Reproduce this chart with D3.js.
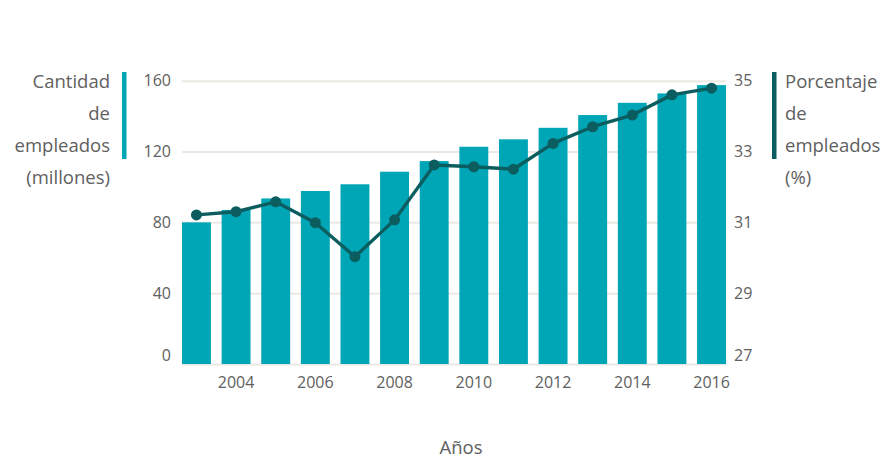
<!DOCTYPE html>
<html>
<head>
<meta charset="utf-8">
<script src="https://cdn.jsdelivr.net/npm/d3@7"></script>
<style>
  html, body { margin: 0; padding: 0; background: #fff; }
  svg { display: block; font-family: "Open Sans", Lato, sans-serif; }
</style>
</head>
<body>
<svg id="chart" width="881" height="476"></svg>
<script>
// Employment: headcount (millions, bars) and share of employed (% line), 2003–2016
const years = [2003, 2004, 2005, 2006, 2007, 2008, 2009, 2010, 2011, 2012, 2013, 2014, 2015, 2016];
const employed = [80, 87, 93.5, 97.7, 101.5, 108.6, 114.6, 122.7, 126.9, 133.4, 140.6, 147.5, 152.8, 157.5];
const sharePct = [31.21, 31.30, 31.58, 30.99, 30.03, 31.07, 32.62, 32.57, 32.50, 33.23, 33.70, 34.03, 34.60, 34.79];
const leftTicks = [0, 40, 80, 120, 160];
const rightTicks = [27, 29, 31, 33, 35];
const xTickYears = [2004, 2006, 2008, 2010, 2012, 2014, 2016];
const leftTitle = ["Cantidad", "de", "empleados", "(millones)"];
const rightTitle = ["Porcentaje", "de", "empleados", "(%)"];
const xTitle = "Años";

const barColor = "#00a6b6";
const lineColor = "#0b5d5f";
const gridColor = "#ece8e4";
const textColor = "#606060";
const font = "'Open Sans', Lato, sans-serif";

const svg = d3.select("#chart");
const plot = { left: 182, right: 726, top: 80.7, bottom: 364 };

const x = d3.scaleBand().domain(years).range([plot.left, plot.right])
  .paddingInner(0.27).paddingOuter(0);
const yL = d3.scaleLinear().domain([0, 160]).range([plot.bottom, plot.top]);
const yR = d3.scaleLinear().domain([27, 35]).range([plot.bottom, plot.top]);

// gridlines
svg.append("g")
  .attr("transform", `translate(${plot.left},0)`)
  .call(d3.axisLeft(yL).tickValues(leftTicks).tickSize(-(plot.right - plot.left)).tickFormat(""))
  .call(g => g.select(".domain").remove())
  .call(g => g.selectAll("line").attr("stroke", gridColor).attr("stroke-width", 2));

// bars
svg.append("g").selectAll("rect").data(years).join("rect")
  .attr("x", d => x(d))
  .attr("width", x.bandwidth())
  .attr("y", (d, i) => yL(employed[i]))
  .attr("height", (d, i) => yL(0) - yL(employed[i]))
  .attr("fill", barColor);

// left axis labels
const axL = svg.append("g")
  .attr("transform", `translate(171,0)`)
  .call(d3.axisLeft(yL).tickValues(leftTicks).tickSize(0).tickPadding(0))
  .call(g => g.select(".domain").remove());
// right axis labels
const axR = svg.append("g")
  .attr("transform", `translate(734,0)`)
  .call(d3.axisRight(yR).tickValues(rightTicks).tickSize(0).tickPadding(0))
  .call(g => g.select(".domain").remove());
[axL, axR].forEach(ax => {
  ax.selectAll("text")
    .attr("fill", textColor)
    .style("font-size", "16px")
    .style("font-family", font);
  // lowest label sits slightly above the baseline
  ax.selectAll(".tick").filter((d, i) => i === 0).select("text").attr("y", -9);
});

// x axis labels
const axX = svg.append("g")
  .attr("transform", `translate(0,${plot.bottom})`)
  .call(d3.axisBottom(x).tickValues(xTickYears).tickSize(0).tickPadding(13))
  .call(g => g.select(".domain").remove());
axX.selectAll("text")
  .attr("fill", textColor)
  .style("font-size", "16px")
  .style("font-family", font);

// percentage line
const line = d3.line()
  .x((d, i) => x(years[i]) + x.bandwidth() / 2)
  .y(d => yR(d));
svg.append("path")
  .datum(sharePct)
  .attr("d", line)
  .attr("fill", "none")
  .attr("stroke", lineColor)
  .attr("stroke-width", 3.4)
  .attr("stroke-linejoin", "round");
svg.append("g").selectAll("circle").data(sharePct).join("circle")
  .attr("cx", (d, i) => x(years[i]) + x.bandwidth() / 2)
  .attr("cy", d => yR(d))
  .attr("r", 5.5)
  .attr("fill", lineColor);

// axis titles with colour keys
const lineGap = 32;
svg.append("rect").attr("x", 122).attr("y", 72).attr("width", 4.5).attr("height", 87).attr("fill", barColor);
svg.append("g").selectAll("text").data(leftTitle).join("text")
  .attr("x", 110).attr("y", (d, i) => 88 + i * lineGap)
  .attr("text-anchor", "end")
  .attr("fill", textColor)
  .style("font-size", "18.5px")
  .text(d => d);

svg.append("rect").attr("x", 772).attr("y", 72).attr("width", 4.5).attr("height", 87).attr("fill", lineColor);
svg.append("g").selectAll("text").data(rightTitle).join("text")
  .attr("x", 785).attr("y", (d, i) => 88 + i * lineGap)
  .attr("fill", textColor)
  .style("font-size", "18.5px")
  .text(d => d);

svg.append("text")
  .attr("x", 461).attr("y", 454)
  .attr("text-anchor", "middle")
  .attr("fill", textColor)
  .style("font-size", "18.5px")
  .text(xTitle);
</script>
</body>
</html>
